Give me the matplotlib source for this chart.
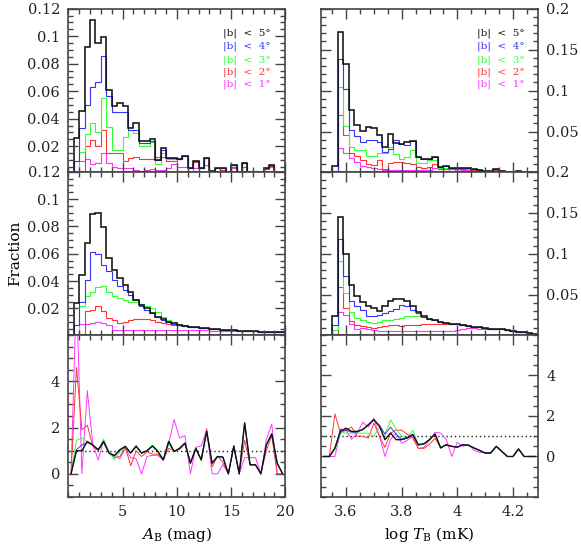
import numpy as np
import matplotlib
matplotlib.use("Agg")
import matplotlib.pyplot as plt
from matplotlib.ticker import MultipleLocator, FuncFormatter

plt.rcParams['font.family'] = ['DejaVu Serif']
plt.rcParams['mathtext.fontset'] = 'dejavuserif'

# bins: A_B 0..20 step 0.5 (40 bins), log T_B 3.51..4.29 step 0.02 (39 bins)
edges_A = np.linspace(0, 20, 41)
edges_T = np.linspace(3.51, 4.29, 40)
cent_A = 0.5 * (edges_A[:-1] + edges_A[1:])
cent_T = 0.5 * (edges_T[:-1] + edges_T[1:])

labels = ["|b|  <  5°", "|b|  <  4°", "|b|  <  3°", "|b|  <  2°", "|b|  <  1°"]
colors = ["#111111", "#3333ff", "#33ff33", "#ff3333", "#ff33ff"]

# top row, A_B
black_top_A = [0, 0.026, 0.0455, 0.092, 0.112, 0.095, 0.0995, 0.061, 0.049, 0.0515,
               0.049, 0.0334, 0.037, 0.0236, 0.0236, 0.025, 0.0103, 0.0188, 0.0115, 0.0115,
               0.011, 0.0127, 0.0043, 0.0096, 0.0043, 0.0115, 0.002, 0.0043, 0.0043, 0,
               0.006, 0, 0.008, 0, 0, 0, 0.0043, 0.006, 0, 0]
blue_top_A = [0, 0.009, 0.033, 0.050, 0.063, 0.067, 0.0855, 0.0564, 0.0447, 0.0447,
              0.0447, 0.032, 0.032, 0.0225, 0.0225, 0.0236, 0.0103, 0.0175, 0.0115, 0.0115,
              0.011, 0.0127, 0.0043, 0.0096, 0.0043, 0.0115, 0.002, 0.0043, 0.0043, 0,
              0.006, 0, 0.008, 0, 0, 0, 0.0043, 0.006, 0, 0]
green_top_A = [0, 0.001, 0.0155, 0.029, 0.037, 0.030, 0.055, 0.0338, 0.0176, 0.0176,
               0.027, 0.032, 0.0297, 0.020, 0.020, 0.023, 0.0072, 0.015, 0.011, 0.011,
               0.011, 0.0127, 0.0043, 0.0096, 0.0043, 0.0115, 0.002, 0.0043, 0.0043, 0,
               0.006, 0, 0.008, 0, 0, 0, 0.0043, 0.006, 0, 0]
red_top_A = [0, 0.001, 0.002, 0.020, 0.0244, 0.020, 0.0316, 0.0152, 0.0152, 0.0152,
             0.0096, 0.0115, 0.0125, 0.0105, 0.011, 0.011, 0.0125, 0.0125, 0.0095, 0.009,
             0.011, 0.0127, 0.004, 0.0085, 0.004, 0.0115, 0.0015, 0.004, 0.003, 0,
             0.005, 0, 0.005, 0.0015, 0.0015, 0, 0.0035, 0.0055, 0, 0]
magenta_top_A = [0, 0, 0.0095, 0.0105, 0.007, 0.0075, 0.015, 0.008, 0.005, 0.004,
                 0.004, 0.004, 0.003, 0.002, 0.003, 0.0035, 0.003, 0.0025, 0.004, 0.007,
                 0.005, 0.005, 0, 0.004, 0.004, 0.006, 0, 0, 0.0015, 0,
                 0.004, 0, 0.0022, 0.002, 0.002, 0, 0.004, 0.005, 0, 0]

# middle row, A_B
black_mid_A = [0, 0.024, 0.0444, 0.068, 0.089, 0.0895, 0.0794, 0.0567, 0.048, 0.042,
               0.037, 0.032, 0.026, 0.0224, 0.020, 0.0168, 0.0138, 0.012, 0.0102, 0.009,
               0.008, 0.0073, 0.0066, 0.0061, 0.0056, 0.0053, 0.005, 0.0047, 0.0043, 0.0041,
               0.0039, 0.0037, 0.0034, 0.0033, 0.0031, 0.003, 0.0029, 0.0028, 0.0026, 0.0025]
blue_mid_A = [0, 0.0077, 0.0248, 0.0408, 0.061, 0.060, 0.0518, 0.0474, 0.0408, 0.0364,
              0.0334, 0.0298, 0.0258, 0.022, 0.019, 0.0163, 0.0134, 0.0115, 0.0100, 0.0089,
              0.008, 0.0073, 0.0066, 0.0061, 0.0056, 0.0053, 0.005, 0.0047, 0.0043, 0.0041,
              0.0039, 0.0037, 0.0034, 0.0033, 0.0031, 0.003, 0.0029, 0.0028, 0.0026, 0.0025]
green_mid_A = [0, 0.001, 0.0217, 0.029, 0.032, 0.0354, 0.0364, 0.032, 0.029, 0.0273,
               0.026, 0.025, 0.0244, 0.0234, 0.0215, 0.020, 0.0175, 0.0138, 0.0115, 0.0098,
               0.0085, 0.0075, 0.0067, 0.0061, 0.0056, 0.0053, 0.005, 0.0047, 0.0043, 0.0041,
               0.0039, 0.0037, 0.0034, 0.0033, 0.0031, 0.003, 0.0029, 0.0028, 0.0026, 0.0025]
red_mid_A = [0, 0, 0.0012, 0.0178, 0.019, 0.0215, 0.0178, 0.0129, 0.0116, 0.0096,
             0.0103, 0.0116, 0.0124, 0.0124, 0.0122, 0.0116, 0.0103, 0.0096, 0.0087, 0.008,
             0.0075, 0.0071, 0.0066, 0.0061, 0.0056, 0.0053, 0.005, 0.0047, 0.0043, 0.0041,
             0.0039, 0.0037, 0.0034, 0.0033, 0.0031, 0.003, 0.0029, 0.0028, 0.0026, 0.0025]
magenta_mid_A = [0, 0, 0.0085, 0.0088, 0.0093, 0.010, 0.0095, 0.0075, 0.0042, 0.0042,
                 0.0042, 0.0043, 0.0044, 0.0044, 0.0043, 0.0042, 0.0041, 0.0040, 0.0040, 0.0039,
                 0.0039, 0.0038, 0.0038, 0.0038, 0.0038, 0.0038, 0.0037, 0.0037, 0.0037, 0.0036,
                 0.0036, 0.0035, 0.0034, 0.0033, 0.0031, 0.003, 0.0029, 0.0028, 0.0026, 0.0025]

# bottom row, A_B (ratios at bin centres)
black_rat_A = [0, 1.0, 1.0, 1.4, 1.25, 1.04, 1.4, 0.9, 0.78, 1.04,
               1.18, 0.9, 1.2, 0.9, 1.0, 1.2, 0.97, 0.6, 1.4, 0.97,
               1.1, 1.33, 0.46, 1.1, 0.6, 1.83, 0.46, 0.75, 0.72, 0,
               1.2, 0, 2.2, 0.39, 0.39, 0, 1.25, 1.73, 0.46, 0]
blue_rat_A = [0, 1.05, 1.25, 1.35, 1.25, 1.04, 1.35, 0.9, 0.8, 1.04,
              1.2, 0.9, 1.2, 0.9, 1.0, 1.2, 0.97, 0.6, 1.4, 0.97,
              1.1, 1.33, 0.46, 1.1, 0.6, 1.83, 0.46, 0.75, 0.72, 0,
              1.2, 0, 2.2, 0.39, 0.39, 0, 1.25, 1.73, 0.46, 0]
green_rat_A = [0, 1.45, 1.55, 1.38, 1.25, 1.0, 1.5, 0.95, 0.6, 0.95,
               1.15, 0.9, 1.15, 0.9, 1.0, 1.25, 1.0, 0.6, 1.3, 0.95,
               1.1, 1.33, 0.46, 1.1, 0.6, 1.83, 0.46, 0.75, 0.72, 0,
               1.2, 0, 2.2, 0.39, 0.39, 0, 1.25, 1.73, 0.46, 0]
red_rat_A = [0, 4.6, 1.9, 2.1, 1.2, 1.0, 1.4, 0.9, 0.7, 0.75,
             1.15, 0.35, 1.0, 0.75, 0.95, 0.85, 0.85, 0.6, 1.1, 1.0,
             1.05, 1.3, 0.5, 1.1, 0.6, 1.95, 0.3, 0.75, 0.5, 0,
             1.2, 0, 1.45, 0.4, 0.4, 0, 1.0, 1.65, 0, 0]
magenta_rat_A = [0, 8.0, 0, 3.6, 1.3, 0.6, 1.45, 0.9, 0.8, 0.65,
                 1.1, 0.7, 0.65, 0, 0.75, 0.8, 0.8, 0.6, 1.3, 2.35,
                 1.55, 1.65, 0, 1.15, 1.2, 1.9, 0, 0, 0.4, 0,
                 1.2, 0, 0.7, 0.7, 0.7, 0, 1.5, 2.15, 0, 0]

# top row, log T_B
black_top_T = [0, 0, 0.008, 0.171, 0.133, 0.076, 0.058, 0.051, 0.055, 0.054,
               0.046, 0.0316, 0.047, 0.0365, 0.035, 0.037, 0.039, 0.0193, 0.016, 0.017,
               0.019, 0.007, 0.008, 0.006, 0.006, 0.006, 0.005, 0.004, 0.003, 0.0015,
               0.0015, 0.004, 0.0015, 0, 0, 0.002, 0, 0, 0]
blue_top_T = [0, 0, 0.002, 0.139, 0.102, 0.052, 0.0447, 0.0377, 0.040, 0.0395,
              0.0377, 0.0255, 0.029, 0.040, 0.035, 0.034, 0.039, 0.0193, 0.016, 0.017,
              0.019, 0.007, 0.008, 0.006, 0.006, 0.006, 0.005, 0.004, 0.003, 0.0015,
              0.0015, 0.004, 0.0015, 0, 0, 0.002, 0, 0, 0]
green_top_T = [0, 0, 0.001, 0.1045, 0.057, 0.031, 0.027, 0.027, 0.020, 0.020,
               0.024, 0.024, 0.031, 0.023, 0.017, 0.019, 0.027, 0.012, 0.012, 0.015,
               0.015, 0.005, 0.006, 0.005, 0.005, 0.005, 0.004, 0.004, 0.003, 0.0015,
               0.0015, 0.004, 0.0015, 0, 0, 0.002, 0, 0, 0]
red_top_T = [0, 0, 0.001, 0.070, 0.046, 0.0235, 0.020, 0.015, 0.010, 0.009,
             0.015, 0.004, 0.011, 0.0125, 0.0125, 0.011, 0.010, 0.007, 0.005, 0.007,
             0.010, 0.004, 0.004, 0.004, 0.004, 0.004, 0.004, 0.003, 0.003, 0.0015,
             0.0015, 0.003, 0.0015, 0, 0, 0.002, 0, 0, 0]
magenta_top_T = [0, 0, 0, 0.030, 0.024, 0.018, 0.0125, 0.008, 0.007, 0.006,
                 0.004, 0.003, 0.003, 0.003, 0.0025, 0.003, 0.003, 0.0025, 0.0025, 0.003,
                 0.005, 0.004, 0.004, 0, 0.004, 0.003, 0.003, 0.002, 0.002, 0.0015,
                 0.0015, 0.003, 0.0015, 0, 0, 0.002, 0, 0, 0]

# middle row, log T_B
black_mid_T = [0, 0, 0.0237, 0.1445, 0.0999, 0.0622, 0.048, 0.0407, 0.0359, 0.034,
               0.0298, 0.036, 0.043, 0.045, 0.0447, 0.042, 0.0367, 0.0286, 0.0237, 0.0205,
               0.019, 0.0166, 0.0158, 0.0146, 0.0138, 0.013, 0.0122, 0.0113, 0.0105, 0.0097,
               0.0089, 0.0085, 0.0077, 0.0069, 0.006, 0.0052, 0.0044, 0.0036, 0.0028]
blue_mid_T = [0, 0, 0.0135, 0.1177, 0.073, 0.042, 0.0367, 0.0318, 0.0245, 0.0237,
              0.0257, 0.0278, 0.0298, 0.0326, 0.038, 0.036, 0.032, 0.028, 0.023, 0.0205,
              0.019, 0.0166, 0.0158, 0.0146, 0.0138, 0.013, 0.0122, 0.0113, 0.0105, 0.0097,
              0.0089, 0.0085, 0.0077, 0.0069, 0.006, 0.0052, 0.0044, 0.0036, 0.0028]
green_mid_T = [0, 0, 0.0067, 0.0906, 0.052, 0.0286, 0.0217, 0.019, 0.0166, 0.0158,
               0.0166, 0.019, 0.019, 0.0205, 0.0217, 0.0237, 0.0245, 0.0245, 0.023, 0.0205,
               0.019, 0.0166, 0.0158, 0.0146, 0.0138, 0.013, 0.0122, 0.0113, 0.0105, 0.0097,
               0.0089, 0.0085, 0.0077, 0.0069, 0.006, 0.0052, 0.0044, 0.0036, 0.0028]
red_mid_T = [0, 0, 0.002, 0.0594, 0.0339, 0.0176, 0.0135, 0.0122, 0.0105, 0.0097,
             0.0113, 0.0122, 0.0126, 0.0126, 0.0122, 0.0126, 0.0128, 0.013, 0.0138, 0.0142,
             0.015, 0.015, 0.0142, 0.014, 0.0138, 0.013, 0.0122, 0.0113, 0.0105, 0.0097,
             0.0089, 0.0085, 0.0077, 0.0069, 0.006, 0.0052, 0.0044, 0.0036, 0.0028]
magenta_mid_T = [0, 0, 0, 0.0286, 0.025, 0.0138, 0.0084, 0.009, 0.0084, 0.0073,
                 0.006, 0.0057, 0.0057, 0.0057, 0.0057, 0.0057, 0.0057, 0.0057, 0.0057, 0.0057,
                 0.0057, 0.0057, 0.0057, 0.006, 0.0073, 0.008, 0.009, 0.009, 0.0088, 0.0087,
                 0.0087, 0.0085, 0.0077, 0.0069, 0.006, 0.0052, 0.0044, 0.0036, 0.0028]

# bottom row, log T_B (ratios at bin centres)
black_rat_T = [0, 0, 0.42, 1.24, 1.4, 1.24, 1.24, 1.32, 1.57, 1.82,
               1.49, 0.83, 1.16, 0.83, 0.83, 0.91, 1.08, 0.58, 0.63, 0.83,
               1.11, 0.42, 0.58, 0.5, 0.46, 0.58, 0.55, 0.42, 0.3, 0.17,
               0.17, 0.5, 0.25, 0, 0, 0.37, 0, 0, 0]
blue_rat_T = [0, 0, 0.4, 1.35, 1.3, 1.2, 1.2, 1.35, 1.55, 1.8,
              1.55, 1.1, 1.45, 1.1, 0.85, 0.95, 1.1, 0.58, 0.63, 0.83,
              1.11, 0.42, 0.58, 0.5, 0.46, 0.58, 0.55, 0.42, 0.3, 0.17,
              0.17, 0.5, 0.25, 0, 0, 0.37, 0, 0, 0]
green_rat_T = [0, 0, 0.3, 1.2, 1.15, 1.15, 1.15, 1.15, 1.15, 1.0,
               1.45, 1.1, 1.8, 1.35, 1.0, 0.9, 1.3, 0.55, 0.6, 0.85,
               1.1, 0.45, 0.58, 0.5, 0.46, 0.58, 0.55, 0.42, 0.3, 0.17,
               0.17, 0.5, 0.25, 0, 0, 0.37, 0, 0, 0]
red_rat_T = [0, 0, 2.1, 1.15, 1.3, 1.45, 1.0, 1.0, 0.9, 1.65,
             1.0, 0.45, 1.15, 1.3, 1.3, 1.1, 0.9, 0.4, 0.4, 0.6,
             0.9, 0.45, 0.55, 0.5, 0.46, 0.58, 0.55, 0.42, 0.3, 0.17,
             0.17, 0.5, 0.25, 0, 0, 0.37, 0, 0, 0]
magenta_rat_T = [0, 0, 0, 1.2, 1.3, 0.85, 1.15, 1.7, 1.45, 1.9,
                 1.0, 0, 0.85, 1.15, 0.65, 0.8, 1.0, 0.4, 0.45, 0.8,
                 1.2, 1.15, 0.85, 0, 0.7, 0.5, 0.6, 0.3, 0.2, 0.2,
                 0.2, 0.5, 0.25, 0, 0, 0.37, 0, 0, 0]

top_A = [black_top_A, blue_top_A, green_top_A, red_top_A, magenta_top_A]
mid_A = [black_mid_A, blue_mid_A, green_mid_A, red_mid_A, magenta_mid_A]
rat_A = [black_rat_A, blue_rat_A, green_rat_A, red_rat_A, magenta_rat_A]
top_T = [black_top_T, blue_top_T, green_top_T, red_top_T, magenta_top_T]
mid_T = [black_mid_T, blue_mid_T, green_mid_T, red_mid_T, magenta_mid_T]
rat_T = [black_rat_T, blue_rat_T, green_rat_T, red_rat_T, magenta_rat_T]

fig = plt.figure(figsize=(5.81, 5.48), dpi=100)

xl, xr, w = 0.1176, 0.5525, 0.3735
rows = [(0.6867, 0.2974), (0.3887, 0.2980), (0.0931, 0.2956)]

gfmt = FuncFormatter(lambda v, p: "%g" % round(v, 4))


def style(ax, right=False):
    for s in ax.spines.values():
        s.set_linewidth(1.2)
        s.set_color("#444444")
    ax.tick_params(which="both", direction="in", top=True, bottom=True,
                   left=True, right=True, colors="#444444", labelcolor="#222222",
                   labelsize=10.5, width=1.0)
    ax.tick_params(which="major", length=7, pad=6)
    ax.tick_params(which="minor", length=3.5)
    if right:
        ax.tick_params(labelleft=False, labelright=True)
    ax.yaxis.set_major_formatter(gfmt)
    ax.xaxis.set_major_formatter(gfmt)


axes = {}
for c, x0 in enumerate([xl, xr]):
    for r, (y0, h) in enumerate(rows):
        axes[(r, c)] = fig.add_axes([x0, y0, w, h])

# left column
for r in range(3):
    ax = axes[(r, 0)]
    style(ax)
    ax.set_xlim(0, 20)
    ax.xaxis.set_major_locator(MultipleLocator(5))
    ax.xaxis.set_minor_locator(MultipleLocator(1))
    ax.set_xticks([5, 10, 15, 20])
    if r < 2:
        ax.tick_params(labelbottom=False)

for r in range(3):
    ax = axes[(r, 1)]
    style(ax, right=True)
    ax.set_xlim(3.51, 4.29)
    ax.set_xticks([3.6, 3.8, 4.0, 4.2])
    ax.xaxis.set_minor_locator(MultipleLocator(0.05))
    if r < 2:
        ax.tick_params(labelbottom=False)

# histograms
for k in range(4, -1, -1):
    lw = 1.15 if k == 0 else 0.8
    axes[(0, 0)].stairs(top_A[k], edges_A, color=colors[k], lw=lw)
    axes[(1, 0)].stairs(mid_A[k], edges_A, color=colors[k], lw=lw)
    axes[(0, 1)].stairs(top_T[k], edges_T, color=colors[k], lw=lw)
    axes[(1, 1)].stairs(mid_T[k], edges_T, color=colors[k], lw=lw)
    axes[(2, 0)].plot(cent_A, rat_A[k], color=colors[k], lw=lw * 0.85)
    axes[(2, 1)].plot(cent_T, rat_T[k], color=colors[k], lw=lw * 0.85)

for c in range(2):
    axes[(2, c)].axhline(1, color="#222222", ls=(0, (1, 2)), lw=1.0, zorder=0)

for r in range(2):
    ax = axes[(r, 0)]
    ax.set_ylim(0.0015 if r == 0 else 0.0005, 0.12)
    ax.set_yticks([0.02, 0.04, 0.06, 0.08, 0.1, 0.12])
    ax.yaxis.set_minor_locator(MultipleLocator(0.005))
    ax = axes[(r, 1)]
    ax.set_ylim(0.001, 0.2)
    ax.set_yticks([0.05, 0.1, 0.15, 0.2])
    ax.yaxis.set_minor_locator(MultipleLocator(0.01))

axes[(2, 0)].set_ylim(-1, 6)
axes[(2, 1)].set_ylim(-2, 6)
for c in range(2):
    axes[(2, c)].set_yticks([0, 2, 4])
    axes[(2, c)].yaxis.set_minor_locator(MultipleLocator(0.5))

# legends
ys = [0.849, 0.767, 0.685, 0.610, 0.535]
for c, xt in enumerate([0.714, 0.72]):
    for k in range(5):
        axes[(0, c)].text(xt, ys[k], labels[k], color=colors[k], fontsize=7.5,
                          transform=axes[(0, c)].transAxes, va="center", ha="left")

axes[(1, 0)].set_ylabel("Fraction", fontsize=11)
axes[(2, 0)].set_xlabel(r"$A_{\rm B}$ (mag)", fontsize=11)
axes[(2, 1)].set_xlabel(r"log $T_{\rm B}$ (mK)", fontsize=11)

fig.savefig("out.png", dpi=100)
